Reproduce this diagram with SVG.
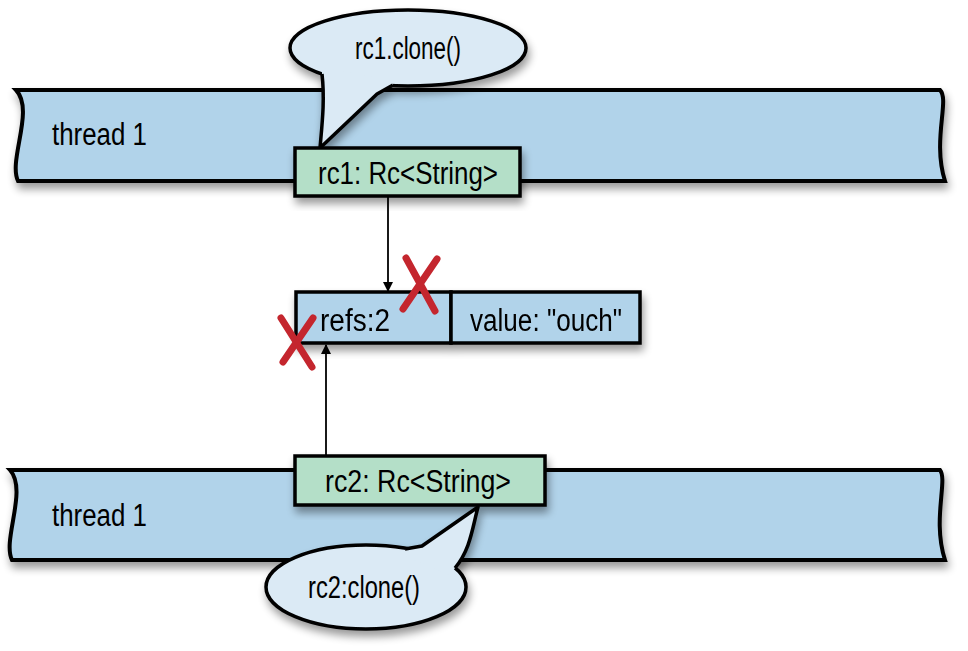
<svg xmlns="http://www.w3.org/2000/svg" width="968" height="651" viewBox="0 0 968 651">
<style>
.band{fill:#b1d3ea;stroke:#000;stroke-width:4;filter:url(#sh)}
.green{fill:#b4dfc8;stroke:#000;stroke-width:3.5;filter:url(#sh)}
.cell{fill:#b1d3ea;stroke:#000;stroke-width:3.5}
.bub{fill:#dbeaf5;stroke:#000;stroke-width:3.5}
.tail{fill:#dbeaf5;stroke:none}
.side{fill:none;stroke:#000;stroke-width:3.5;stroke-linejoin:round}
text{font-family:"Liberation Sans",Arial,sans-serif;font-size:31px;fill:#000}
.x{stroke:#c4262e;stroke-width:7;stroke-linecap:round}
.ln{stroke:#000;stroke-width:1.8;fill:none}
</style>
<defs>
<filter id="sh" x="-10%" y="-20%" width="120%" height="150%"><feGaussianBlur in="SourceAlpha" stdDeviation="4"/><feOffset dx="2" dy="6"/><feComponentTransfer><feFuncA type="linear" slope="0.4"/></feComponentTransfer><feMerge><feMergeNode/><feMergeNode in="SourceGraphic"/></feMerge></filter>
<marker id="ah" markerWidth="10" markerHeight="10" refX="9" refY="5" orient="auto" markerUnits="userSpaceOnUse"><path d="M0,0 L10,5 L0,10 Z" fill="#000"/></marker>
</defs>
<g id="thread-top">
<path class="band" d="M16,90 L940,90 C950,100 932,140 945,181 L18,181 C8,160 35,110 16,90 Z"/>
<text x="52" y="145" textLength="95" lengthAdjust="spacingAndGlyphs">thread 1</text>
</g>
<g id="bubble-top">
<g filter="url(#sh)">
<ellipse class="bub" cx="408" cy="48" rx="118" ry="38"/>
<path class="tail" d="M322,68 L393,80 L393,85 L377,94 L320,148 C322,125 325,100 322,74 Z"/>
<path class="side" d="M322,74 C325,100 322,125 320,148 L377,94 L393,85"/>
</g>
<text x="408" y="59" text-anchor="middle" textLength="106" lengthAdjust="spacingAndGlyphs">rc1.clone()</text>
</g>
<g id="rc1">
<rect class="green" x="295" y="148" width="225" height="48"/>
<text x="408" y="184" text-anchor="middle" textLength="180" lengthAdjust="spacingAndGlyphs">rc1: Rc&lt;String&gt;</text>
</g>
<g id="thread-bottom">
<path class="band" d="M10,470 L940,470 C948,480 932,520 945,560 L12,560 C2,540 28,490 10,470 Z"/>
<text x="52" y="526" textLength="95" lengthAdjust="spacingAndGlyphs">thread 1</text>
</g>
<g id="rc2">
<rect class="green" x="295" y="456" width="250" height="49"/>
<text x="418" y="492" text-anchor="middle" textLength="186" lengthAdjust="spacingAndGlyphs">rc2: Rc&lt;String&gt;</text>
</g>
<g id="bubble-bottom">
<g filter="url(#sh)">
<ellipse class="bub" cx="366" cy="587" rx="100" ry="42"/>
<path class="tail" d="M405,556 L405,549 L422,546 L478,507 C472,530 470,550 455,568 L450,575 Z"/>
<path class="side" d="M405,549 L422,546 L478,507 C472,530 470,550 455,568"/>
</g>
<text x="364" y="598" text-anchor="middle" textLength="112" lengthAdjust="spacingAndGlyphs">rc2:clone()</text>
</g>
<g id="rc-box" filter="url(#sh)">
<rect class="cell" x="296" y="292" width="155" height="51"/>
<rect class="cell" x="451" y="292" width="189" height="51"/>
<text x="320" y="331" textLength="70" lengthAdjust="spacingAndGlyphs">refs:2</text>
<text x="546" y="331" text-anchor="middle" textLength="152" lengthAdjust="spacingAndGlyphs">value: "ouch"</text>
</g>
<g id="connectors">
<line class="ln" x1="388" y1="197" x2="388" y2="291" marker-end="url(#ah)"/>
<line class="ln" x1="326" y1="456" x2="326" y2="345" marker-end="url(#ah)"/>
</g>
<g id="marks">
<line class="x" x1="406" y1="258" x2="435" y2="311"/>
<line class="x" x1="437" y1="259" x2="403" y2="309"/>
<line class="x" x1="281" y1="318" x2="312" y2="367"/>
<line class="x" x1="313" y1="318" x2="283" y2="362"/>
</g>
</svg>
